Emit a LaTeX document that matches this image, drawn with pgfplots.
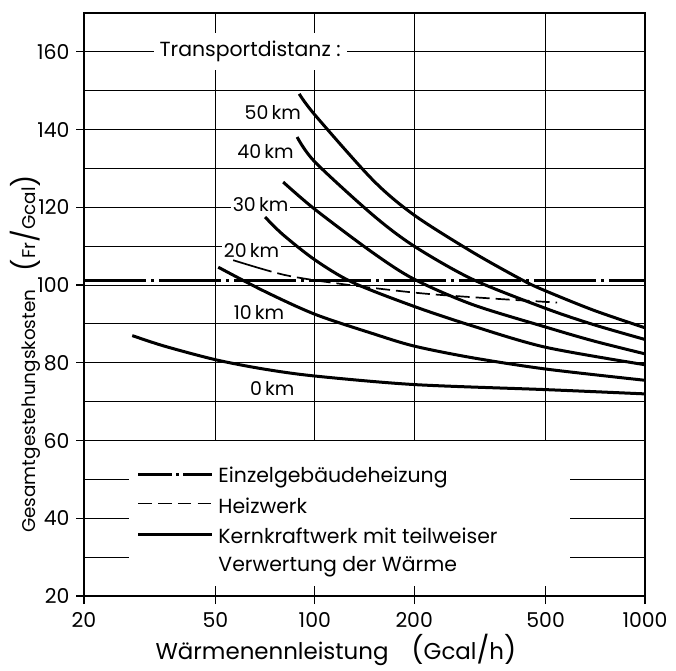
\documentclass[border=0pt]{standalone}
\usepackage{fontspec}
\setmainfont{Poppins}
\usepackage{pgfplots}
\pgfplotsset{compat=1.18}
\newcommand{\tf}{\fontsize{20.5}{22}\selectfont}
\newcommand{\lf}{\fontsize{20.5}{22}\selectfont}
\newcommand{\cf}{\fontsize{19}{21}\selectfont}
\newcommand{\bigp}[1]{{\fontsize{27}{27}\selectfont #1}}
\begin{document}
\begin{tikzpicture}
\begin{axis}[
  scale only axis, width=561bp, height=583bp,
  xmode=log, xmin=20, xmax=1000, ymin=20, ymax=170,
  xtick={20,50,100,200,500,1000},
  xticklabels={20,50,100,200,500,1000},
  xminorticks=false,
  ytick={20,40,...,160},
  xtick pos=bottom, ytick pos=left,
  tick align=outside, major tick length=8bp,
  tick style={black, line width=1.2bp},
  axis line style={line width=1.4bp},
  yticklabel style={/pgf/number format/assume math mode=true, font=\tf, xshift=-3bp},
  xticklabel style={font=\tf, yshift=-5bp},
  xlabel={Wärmenennleistung\quad\bigp{(}Gcal\bigp{/}h\bigp{)}},
  ylabel={Gesamtgestehungskosten\quad\bigp{(}Fr\bigp{/}Gcal\bigp{)}},
  xlabel style={font=\fontsize{23}{25}\selectfont, at={(axis description cs:0.449,-0.093)}, anchor=center},
  ylabel style={font=\fontsize{18.5}{20}\selectfont, at={(axis description cs:-0.105,0.415)}, anchor=center},
]
% grid, upper part
\foreach \y in {70,80,...,160} {\edef\temp{\noexpand\draw[line width=1.1bp] (axis cs:20,\y) -- (axis cs:1000,\y);}\temp}
\draw[line width=1.4bp] (axis cs:20,60) -- (axis cs:1000,60);
\foreach \x in {50,100,200,500} {\edef\temp{\noexpand\draw[line width=1.2bp] (axis cs:\x,60) -- (axis cs:\x,170);}\temp}
% grid stubs, lower part
\foreach \y in {30,40,50} {\edef\temp{\noexpand\draw[line width=1.1bp] (axis cs:20,\y) -- (axis cs:27.3,\y); \noexpand\draw[line width=1.1bp] (axis cs:594,\y) -- (axis cs:1000,\y);}\temp}
\foreach \x in {50,100,200,500} {\edef\temp{\noexpand\draw[line width=1.2bp] (axis cs:\x,20) -- (axis cs:\x,22.6);}\temp}

\node[fill=white, inner xsep=6bp, inner ysep=8bp, font=\lf] at (axis cs:63.7,160) {Transportdistanz :};

% Einzelgebaeudeheizung
\addplot[black, line width=3bp, dash pattern=on 62bp off 5bp on 3bp off 5bp] coordinates {(20,101.3) (1000,101.3)};
% Heizwerk
\addplot[black, line width=1.7bp, smooth, dash pattern=on 40bp off 6bp on 14bp off 6bp on 14bp off 6bp on 14bp off 6bp on 14bp off 6bp on 14bp off 6bp on 14bp off 6bp on 14bp off 6bp on 14bp off 6bp on 14bp off 6bp on 14bp off 6bp on 14bp off 6bp on 14bp off 6bp on 14bp off 6bp on 14bp off 6bp on 14bp off 6bp]
  coordinates {(56.6,106.4) (81,102.6) (120,100.3) (209,97.9) (350,96.5) (542,95.5)};
% Kernkraftwerk, Transportdistanz 0 bis 50 km
\addplot[black, line width=3bp, smooth] coordinates {(28,87) (35,84.3) (50,80.8) (70,78.4) (100,76.6) (200,74.4) (500,73.1) (1000,72)};
\addplot[black, line width=3bp, smooth] coordinates {(51,104.6) (70,98.5) (100,92.5) (150,87.5) (200,84.3) (300,81.3) (500,78.4) (1000,75.5)};
\addplot[black, line width=3bp, smooth] coordinates {(70.7,117.5) (80,113) (100,106.5) (130,100.7) (200,94.5) (300,89.5) (500,84) (1000,79.5)};
\addplot[black, line width=3bp, smooth] coordinates {(80.2,126.5) (100,119.5) (150,108.3) (200,101.5) (300,95) (500,89.2) (700,85.6) (1000,82.3)};
\addplot[black, line width=3bp, smooth] coordinates {(88.4,138.1) (100,131.7) (150,118) (200,110) (300,101.5) (500,94) (700,89.8) (1000,86)};
\addplot[black, line width=3bp, smooth] coordinates {(89.7,149.2) (100,143.8) (150,127) (200,118) (300,108.5) (425,101.3) (500,98.5) (700,93.5) (1000,89)};

% curve labels
\begin{scope}[every node/.style={fill=white, inner sep=2bp, font=\cf}]
\node at (axis cs:74.6,144.3) {50\,km};
\node at (axis cs:70.9,134.3) {40\,km};
\node at (axis cs:68.5,120.6) {30\,km};
\node at (axis cs:64.3,109) {20\,km};
\node at (axis cs:67.8,93) {10\,km};
\node at (axis cs:74.3,73.3) {0\,km};
\end{scope}

% legend
\draw[line width=3bp, dash pattern=on 34bp off 4bp on 3bp off 4bp] (axis cs:29.2,51.2) -- (axis cs:48.9,51.2);
\draw[line width=1.4bp, dash pattern=on 13.5bp off 6.3bp] (axis cs:29.2,43.8) -- (axis cs:48.9,43.8);
\draw[line width=3bp] (axis cs:29.2,35.7) -- (axis cs:48.9,35.7);
\begin{scope}[every node/.style={anchor=base west, inner sep=0pt, font=\lf}]
\node at (axis cs:51,49.3) {Einzelgebäudeheizung};
\node at (axis cs:51,41.2) {Heizwerk};
\node at (axis cs:51,33.4) {Kernkraftwerk mit teilweiser};
\node at (axis cs:51,26.3) {Verwertung der Wärme};
\end{scope}
\end{axis}
\pgfresetboundingbox
\path ([shift={(-84bp,-75bp)}]current axis.south west) rectangle ([shift={(31bp,13bp)}]current axis.north east);
\end{tikzpicture}
\end{document}
